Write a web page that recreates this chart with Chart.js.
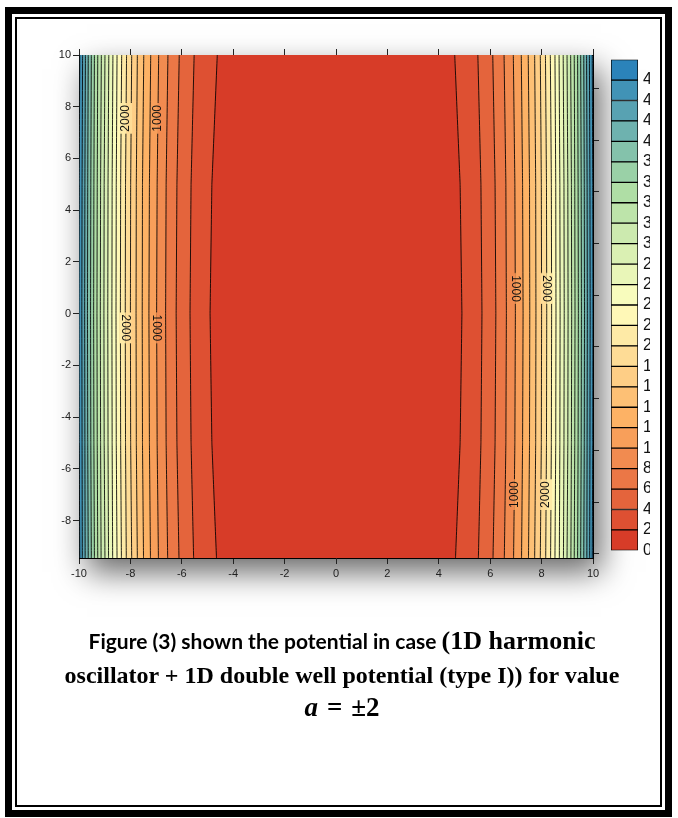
<!DOCTYPE html>
<html>
<head>
<meta charset="utf-8">
<script src="https://cdn.jsdelivr.net/npm/chart.js@4.4.1/dist/chart.umd.min.js"></script>
<style>
html, body { margin: 0; padding: 0; background: #fff; }
body { width: 678px; height: 818px; position: relative; overflow: hidden; }
#pic { position: absolute; left: 20px; top: 20px; width: 630px; height: 600px; overflow: hidden; }
#main { position: absolute; left: 0; top: 0; }
#bar { position: absolute; left: 591px; top: 25px; }
#frame { position: absolute; left: 5px; top: 7px; width: 667px; height: 810px; border: 7px solid #000; box-sizing: border-box; }
#inner { position: absolute; left: 3px; top: 3px; right: 3px; bottom: 3px; border: 2px solid #000; }
.cap { position: absolute; left: 20px; width: 644px; text-align: center; line-height: 34px; color: #000; white-space: nowrap; }
.sans { font-family: Lato, "Open Sans", sans-serif; font-weight: bold; font-size: 21px; }
.serif { font-family: "Liberation Serif", "Times New Roman", serif; font-weight: bold; font-size: 24px; }
.mid { font-size: 26px; }
.big { font-size: 27px; }
.eq { margin: 0 9px; }
</style>
</head>
<body>
<div id="pic">
  <canvas id="main" width="630" height="600"></canvas>
  <canvas id="bar" width="80" height="520"></canvas>
</div>
<div id="frame"><div id="inner"></div></div>
<div class="cap" style="top:624px"><span class="sans">Figure (3) shown the potential in case </span><span class="serif mid">(1D harmonic</span></div>
<div class="cap serif" style="top:658px">oscillator + 1D double well potential (type I)) for value</div>
<div class="cap serif big" style="top:690px"><i>a</i><span class="eq">=</span>±2</div>

<script>
// contour levels (V) and colour bar tick labels
const levels = [200, 400, 600, 800, 1000, 1200, 1400, 1600, 1800, 2000, 2200, 2400,
    2600, 2800, 3000, 3200, 3400, 3600, 3800, 4000, 4200, 4400, 4600];
const barTicks = [0, 200, 400, 600, 800, 1000, 1200, 1400, 1600, 1800, 2000, 2200,
    2400, 2600, 2800, 3000, 3200, 3400, 3600, 3800, 4000, 4200, 4400, 4600];
const barTop = 4800;

// heights (y) where the contour positions were read
const rowY = [10, 5, 0, -5, -9.45];

// |x| of each contour line at those heights (the plot is mirror symmetric in x)
const xTop    = [4.62, 5.52, 6.10, 6.54, 6.90, 7.21, 7.48, 7.73, 7.95, 8.15, 8.34, 8.52,
    8.68, 8.84, 8.99, 9.13, 9.27, 9.40, 9.52, 9.64, 9.75, 9.86, 9.97];
const xUpper  = [4.83, 5.64, 6.19, 6.61, 6.96, 7.26, 7.53, 7.77, 7.99, 8.19, 8.38, 8.55,
    8.71, 8.87, 9.02, 9.16, 9.29, 9.42, 9.54, 9.66, 9.77, 9.88, 9.99];
const xMid    = [4.90, 5.68, 6.22, 6.63, 6.98, 7.28, 7.54, 7.78, 8.00, 8.20, 8.39, 8.56,
    8.72, 8.88, 9.03, 9.17, 9.30, 9.43, 9.55, 9.67, 9.78, 9.89, 10.0];
const xLower  = [4.83, 5.64, 6.19, 6.61, 6.96, 7.26, 7.53, 7.77, 7.99, 8.19, 8.38, 8.55,
    8.71, 8.87, 9.02, 9.16, 9.29, 9.42, 9.54, 9.66, 9.77, 9.88, 9.99];
const xBottom = [4.65, 5.54, 6.11, 6.55, 6.91, 7.22, 7.49, 7.73, 7.95, 8.16, 8.35, 8.52,
    8.69, 8.85, 8.99, 9.14, 9.27, 9.40, 9.52, 9.64, 9.76, 9.87, 9.97];

// inline contour labels
const labelLevels = [1000, 2000];
const leftLabelY = [7.55, -0.55];
const rightLabelY = [0.97, -7.0];

const rows = [xTop, xUpper, xMid, xLower, xBottom];

// colour of each band, red (low) to blue (high)
const anchors = [[215, 60, 40], [253, 174, 97], [255, 255, 191], [171, 221, 164], [43, 131, 186]];
const nCells = barTicks.length;
const palette = [];
for (let i = 0; i < nCells; i++) {
    const t = i / (nCells - 1) * (anchors.length - 1);
    const j = Math.min(Math.floor(t), anchors.length - 2);
    const f = t - j;
    const c = anchors[j].map((v, n) => Math.round(v + (anchors[j + 1][n] - v) * f));
    palette.push(`rgb(${c[0]},${c[1]},${c[2]})`);
}

// a tiny tension keeps chart.js off its fast path, which merges near-vertical points
const TENSION = 0.001;

const datasets = [];
levels.forEach((L, k) => {
    const left = rows.map((r, i) => ({ x: -r[k], y: rowY[i] }));
    const right = rows.map((r, i) => ({ x: r[k], y: rowY[i] }));
    // band V < L
    datasets.push({
        data: left.concat(right.slice().reverse()),
        fill: 'shape',
        backgroundColor: palette[k],
        borderColor: 'transparent',
        borderWidth: 0,
        pointRadius: 0,
        tension: TENSION,
        order: 100 + k
    });
    for (const side of [left, right]) {
        datasets.push({
            data: side,
            fill: false,
            borderColor: 'rgba(0,0,0,0.85)',
            borderWidth: 1,
            pointRadius: 0,
            tension: TENSION,
            order: 0
        });
    }
});

function contourX(k, y) {
    for (let i = 0; i < rowY.length - 1; i++) {
        if (y <= rowY[i] && y >= rowY[i + 1]) {
            const t = (rowY[i] - y) / (rowY[i] - rowY[i + 1]);
            return rows[i][k] + t * (rows[i + 1][k] - rows[i][k]);
        }
    }
    return rows[2][k];
}

const shadow = {
    id: 'shadow',
    beforeDraw(chart) {
        const { ctx, chartArea: a } = chart;
        ctx.save();
        ctx.shadowColor = 'rgba(0,0,0,0.6)';
        ctx.shadowBlur = 30;
        ctx.shadowOffsetX = 8;
        ctx.shadowOffsetY = 14;
        ctx.fillStyle = palette[nCells - 1];
        ctx.fillRect(a.left, a.top, a.width, a.height);
        ctx.restore();
    }
};

const contourLabels = {
    id: 'contourLabels',
    afterDatasetsDraw(chart) {
        const { ctx } = chart;
        const xs = chart.scales.x, ys = chart.scales.y;
        ctx.save();
        ctx.font = '12px "Liberation Sans", Arial, sans-serif';
        ctx.textAlign = 'center';
        ctx.textBaseline = 'middle';
        const items = [];
        for (const L of labelLevels) {
            leftLabelY.forEach(y => items.push({ L, side: -1, y, ccw: y > 0 }));
            rightLabelY.forEach(y => items.push({ L, side: 1, y, ccw: y < 0 }));
        }
        for (const it of items) {
            const k = levels.indexOf(it.L);
            const px = xs.getPixelForValue(it.side * contourX(k, it.y));
            const py = ys.getPixelForValue(it.y);
            const text = String(it.L);
            const h = ctx.measureText(text).width + 4;
            const inner = palette[k], outer = palette[k + 1];
            ctx.fillStyle = it.side < 0 ? outer : inner;
            ctx.fillRect(px - 6, py - h / 2, 6, h);
            ctx.fillStyle = it.side < 0 ? inner : outer;
            ctx.fillRect(px, py - h / 2, 6, h);
            ctx.save();
            ctx.translate(px, py);
            ctx.rotate(it.ccw ? -Math.PI / 2 : Math.PI / 2);
            ctx.fillStyle = '#111';
            ctx.fillText(text, 0, 0);
            ctx.restore();
        }
        ctx.restore();
    }
};

const tickFont = { family: '"Liberation Sans", Arial, sans-serif', size: 11 };
const gridOpts = { drawOnChartArea: false, drawTicks: true, tickLength: 6, tickColor: '#222', color: '#222' };
const borderOpts = { display: true, color: '#000', width: 1 };

new Chart(document.getElementById('main'), {
    type: 'line',
    data: { datasets },
    options: {
        responsive: false,
        animation: false,
        events: [],
        layout: { padding: 0 },
        plugins: { legend: { display: false }, tooltip: { enabled: false } },
        scales: {
            x: {
                type: 'linear', position: 'bottom', min: -10, max: 10,
                ticks: { stepSize: 2, font: tickFont, color: '#222', padding: 3, maxRotation: 0 },
                grid: gridOpts, border: borderOpts,
                afterFit: s => { s.height = 62; }
            },
            xTop: {
                type: 'linear', position: 'top', min: -10, max: 10,
                ticks: { stepSize: 2, display: false },
                grid: gridOpts, border: borderOpts,
                afterFit: s => { s.height = 35; }
            },
            y: {
                type: 'linear', position: 'left', min: -9.45, max: 10,
                ticks: { stepSize: 2, includeBounds: false, font: tickFont, color: '#222', padding: 2 },
                grid: gridOpts, border: borderOpts,
                afterFit: s => { s.width = 59; }
            },
            yRight: {
                type: 'linear', position: 'right', min: -10.16, max: 9.29,
                ticks: { stepSize: 2, includeBounds: false, display: false },
                grid: gridOpts, border: borderOpts,
                afterFit: s => { s.width = 57; }
            }
        }
    },
    plugins: [shadow, contourLabels]
});

// colour bar
const cellValues = barTicks.map((v, i) => (i + 1 < barTicks.length ? barTicks[i + 1] : barTop) - v);
new Chart(document.getElementById('bar'), {
    type: 'bar',
    data: {
        labels: [''],
        datasets: cellValues.map((v, i) => ({
            data: [v],
            backgroundColor: palette[i],
            borderColor: '#000',
            borderWidth: 1,
            borderSkipped: false,
            barPercentage: 1,
            categoryPercentage: 1
        }))
    },
    options: {
        responsive: false,
        animation: false,
        events: [],
        layout: { padding: { top: 12, bottom: 4, left: 0, right: 0 } },
        plugins: { legend: { display: false }, tooltip: { enabled: false } },
        scales: {
            x: { stacked: true, display: false },
            y: {
                stacked: true, position: 'right', min: 0, max: barTop,
                afterBuildTicks: s => { s.ticks = barTicks.map(v => ({ value: v })); },
                ticks: {
                    autoSkip: false,
                    font: { family: '"Liberation Sans", Arial, sans-serif', size: 16 },
                    color: '#111', padding: 5
                },
                grid: { display: false, drawTicks: false },
                border: { display: false },
                afterFit: s => { s.width = 53; }
            }
        }
    }
});
</script>
</body>
</html>
